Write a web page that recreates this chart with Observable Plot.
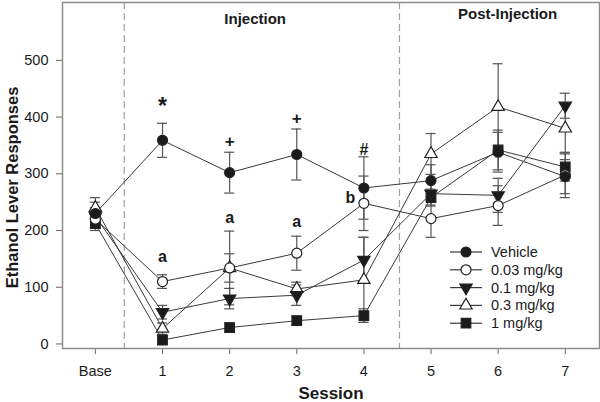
<!DOCTYPE html>
<html><head><meta charset="utf-8">
<script src="https://cdn.jsdelivr.net/npm/d3@7"></script>
<script src="https://cdn.jsdelivr.net/npm/@observablehq/plot@0.6"></script>
<style>
body{margin:0;background:#fff;}
#wrap{width:600px;height:402px;}
</style></head><body><div id="wrap"></div>
<script>
// ---- data ----
const sessions = ["Base","1","2","3","4","5","6","7"];
const groups = ["Vehicle","0.03 mg/kg","0.1 mg/kg","0.3 mg/kg","1 mg/kg"];
const vehicle   = [230, 359, 302, 334, 275, 288, 338, 295];
const vehicleE  = [20, 30, 36, 45, 55, 28, 35, 30];
const d003      = [220, 110, 134, 160, 248, 221, 244, 298];
const d003E     = [15, 12, 25, 30, 48, 33, 35, 40];
const d01       = [225, 56, 80, 86, 148, 265, 262, 420];
const d01E      = [15, 12, 18, 18, 40, 20, 30, 22];
const d03       = [240, 27, 134, 97, 113, 335, 418, 380];
const d03E      = [18, 10, 65, 12, 75, 36, 76, 45];
const d1        = [212, 7, 29, 41, 50, 258, 342, 312];
const d1E       = [12, 8, 8, 8, 12, 15, 35, 25];
const yTicks = [0, 100, 200, 300, 400, 500];
const phaseBreaks = [0.43, 4.53];
const phaseLabels = ["Injection", "Post-Injection"];
const phaseLabelX = [2.38, 6.14];
const phaseLabelY = [572, 581];
const annotText = ["*", "+", "+", "#", "a", "a", "a", "b"];
const annotX    = [1, 2, 3, 4, 1, 2, 3, 3.8];
const annotY    = [418, 357, 397, 343, 153, 223, 215, 258];
const annotSize = [23, 17, 17, 16, 16, 16, 16, 16];

// ---- build ----
const means = [vehicle, d003, d01, d03, d1];
const errs = [vehicleE, d003E, d01E, d03E, d1E];
const downTriangle = {
  draw(context, size) {
    const s = Math.sqrt(3);
    const y = -Math.sqrt(size / (s * 3));
    context.moveTo(0, -y * 2);
    context.lineTo(-s * y, y);
    context.lineTo(s * y, y);
    context.closePath();
  }
};
const styles = [
  {symbol: "circle", fill: "#1b1b1b", r: 5},
  {symbol: "circle", fill: "#ffffff", r: 5},
  {symbol: downTriangle, fill: "#1b1b1b", r: 4.6},
  {symbol: "triangle", fill: "#ffffff", r: 4.6},
  {symbol: "square", fill: "#1b1b1b", r: 5.4}
];
const series = groups.map((g, i) => means[i].map((v, j) => ({g, s: j, y: v, e: errs[i][j]})));
const all = series.flat();
const cap = 0.075;

const marks = [
  Plot.ruleX(phaseBreaks, {stroke: "#a0a0a0", strokeDasharray: "7,4", strokeWidth: 1.2}),
  Plot.axisY({ticks: yTicks, tickSize: 6, tickPadding: 8, fontSize: 14.5, stroke: "#666", label: null, fill: "#1a1a1a"}),
  Plot.axisX({ticks: d3.range(sessions.length), tickFormat: i => sessions[i], tickSize: 6, tickPadding: 11, fontSize: 14.5, stroke: "#666", label: null, fill: "#1a1a1a"}),
  Plot.frame({stroke: "#8c8c8c", strokeWidth: 1.5}),
  Plot.text(["Session"], {frameAnchor: "bottom", lineAnchor: "middle", dy: 45, fontWeight: "bold", fontSize: 17, fill: "#1a1a1a"}),
  Plot.text(["Ethanol Lever Responses"], {frameAnchor: "left", textAnchor: "middle", lineAnchor: "middle", rotate: -90, dx: -50, dy: 12, fontWeight: "bold", fontSize: 16.5, fill: "#1a1a1a"}),
  Plot.text(phaseLabels, {x: (d, i) => phaseLabelX[i], y: (d, i) => phaseLabelY[i], text: d => d, fontWeight: "bold", fontSize: 15, fill: "#1a1a1a"}),
  Plot.text(annotText, {x: (d, i) => annotX[i], y: (d, i) => annotY[i], text: d => d, fontWeight: "bold", fontSize: (d, i) => annotSize[i], fill: "#1a1a1a"}),
  ...series.slice().reverse().map(data => Plot.line(data, {x: "s", y: "y", stroke: "#3a3a3a", strokeWidth: 1})),
  Plot.ruleX(all, {x: "s", y1: d => d.y - d.e, y2: d => d.y + d.e, stroke: "#555", strokeWidth: 1.2}),
  Plot.ruleY(all, {x1: d => d.s - cap, x2: d => d.s + cap, y: d => d.y + d.e, stroke: "#555", strokeWidth: 1.2}),
  Plot.ruleY(all, {x1: d => d.s - cap, x2: d => d.s + cap, y: d => d.y - d.e, stroke: "#555", strokeWidth: 1.2}),
  ...series.slice().reverse().map((data, k) => {
    const st = styles[groups.length - 1 - k];
    return Plot.dot(data, {x: "s", y: "y", symbol: () => st.symbol, r: st.r, fill: st.fill, stroke: "#222", strokeWidth: 1.2});
  })
];

const chart = Plot.plot({
  width: 600, height: 402,
  marginLeft: 62, marginRight: 1, marginTop: 2, marginBottom: 54,
  style: {fontFamily: "'Liberation Sans', Arial, sans-serif", background: "#fff"},
  x: {domain: [-0.49, 7.51]},
  y: {domain: [-8, 602]},
  symbol: {type: "identity"},
  marks
});
document.getElementById("wrap").appendChild(chart);

// legend inside the plot area
const svg = d3.select(chart);
const leg = svg.append("g").attr("transform", "translate(450,252)");
groups.forEach((g, i) => {
  const row = leg.append("g").attr("transform", `translate(0,${i * 17.8})`);
  row.append("line").attr("x1", 0).attr("x2", 32).attr("stroke", "#3a3a3a").attr("stroke-width", 1.2);
  const st = styles[i];
  const type = typeof st.symbol === "string"
    ? ({circle: d3.symbolCircle, triangle: d3.symbolTriangle, square: d3.symbolSquare})[st.symbol]
    : st.symbol;
  row.append("path").attr("transform", "translate(16,0)")
    .attr("d", d3.symbol(type, st.r * st.r * Math.PI)())
    .attr("fill", st.fill).attr("stroke", "#222").attr("stroke-width", 1.2);
  row.append("text").attr("x", 41).attr("dy", "0.35em")
    .attr("text-anchor", "start")
    .attr("font-size", 14.5).attr("fill", "#1a1a1a")
    .attr("font-family", "'Liberation Sans', Arial, sans-serif").text(g);
});
</script></body></html>
